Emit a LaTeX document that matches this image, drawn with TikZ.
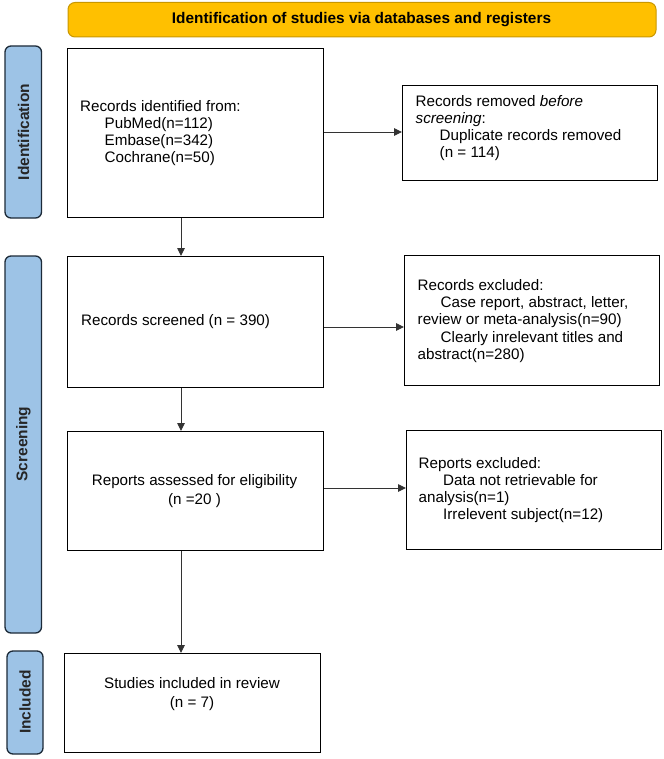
\documentclass[tikz,border=0pt]{standalone}
\usepackage{fontspec}
\setmainfont{Liberation Sans}
\usetikzlibrary{arrows.meta}
\definecolor{banner}{HTML}{FFC000}
\definecolor{bannerline}{HTML}{C99700}
\definecolor{side}{HTML}{9DC3E6}
\definecolor{sideline}{HTML}{1C2A38}
\tikzset{
  x=1pt,y=-1pt,
  box/.style={draw=black,line width=1.3pt,fill=white},
  sidebar/.style={draw=sideline,fill=side,line width=1.3pt,rounded corners=6pt},
  sidelabel/.style={rotate=90,font=\bfseries\fontsize{15.5}{17}\selectfont,text=black!85},
  txt/.style={font=\fontsize{15.2}{17.2}\selectfont,align=left,inner sep=0pt},
  ctxt/.style={font=\fontsize{15.2}{19}\selectfont,align=center,inner sep=0pt},
  conn/.style={draw=black!80,line width=0.9pt,-{Triangle[length=8pt,width=7.5pt]}},
}
\begin{document}
\begin{tikzpicture}
\useasboundingbox (0,0) rectangle (663,759);
% banner
\draw[fill=banner,draw=bannerline,line width=1pt,rounded corners=7pt] (68,2.5) rectangle (656,37);
\node[font=\bfseries\fontsize{15.4}{17}\selectfont] (bannertxt) at (361.5,20) {Identification of studies via databases and registers};
% side bars
\draw[sidebar] (5,46) rectangle (41.5,218);
\node[sidelabel] (lidt) at (23.5,132) {Identification};
\draw[sidebar] (5,256) rectangle (41.5,633);
\node[sidelabel] (lscr) at (23.5,444) {Screening};
\draw[sidebar] (7,651) rectangle (43,754);
\node[sidelabel] (linc) at (25,702) {Included};
% boxes
\node[box,minimum width=256pt,minimum height=169pt,anchor=north west] (b1) at (67,48) {};
\node[box,minimum width=255pt,minimum height=95pt,anchor=north west] (b2) at (402,85) {};
\node[box,minimum width=256pt,minimum height=131pt,anchor=north west] (b3) at (67,256) {};
\node[box,minimum width=255pt,minimum height=130pt,anchor=north west] (b4) at (404,255) {};
\node[box,minimum width=256pt,minimum height=119pt,anchor=north west] (b5) at (67,431) {};
\node[box,minimum width=255pt,minimum height=119pt,anchor=north west] (b6) at (406,430) {};
\node[box,minimum width=256pt,minimum height=99pt,anchor=north west] (b7) at (64,653) {};
% texts
\node[txt,anchor=west] (t1) at (80,133) {Records identified from:\\
\hspace{24.5pt}PubMed(n=112)\\
\hspace{24.5pt}Embase(n=342)\\
\hspace{24.5pt}Cochrane(n=50)};
\node[txt,anchor=west] (t2) at (415.5,128) {Records removed \textit{before}\\
\textit{screening}:\\
\hspace{24pt}Duplicate records removed\\
\hspace{24pt}(n = 114)};
\node[txt,anchor=west] (t3) at (81,322) {Records screened (n = 390)};
\node[txt,anchor=west] (t4) at (417.5,321) {Records excluded:\\
\hspace{23pt}Case report, abstract, letter,\\
review or meta-analysis(n=90)\\
\hspace{23pt}Clearly inrelevant titles and\\
abstract(n=280)};
\node[ctxt] (t5) at (194.5,491) {Reports assessed for eligibility\\(n =20 )};
\node[txt,anchor=west] (t6) at (418.5,490) {Reports excluded:\\
\hspace{24.5pt}Data not retrievable for\\
analysis(n=1)\\
\hspace{24.5pt}Irrelevent subject(n=12)};
\node[ctxt] (t7) at (192,694) {Studies included in review\\(n = 7)};
% connectors
\draw[conn] (b1.east |- 0,132) -- (b2.west |- 0,132);
\draw[conn] (b1.south -| 181,0) -- (b3.north -| 181,0);
\draw[conn] (b3.east |- 0,327) -- (b4.west |- 0,327);
\draw[conn] (b3.south -| 181,0) -- (b5.north -| 181,0);
\draw[conn] (b5.east |- 0,488) -- (b6.west |- 0,488);
\draw[conn] (b5.south -| 181,0) -- (b7.north -| 181,0);
\end{tikzpicture}
\end{document}
